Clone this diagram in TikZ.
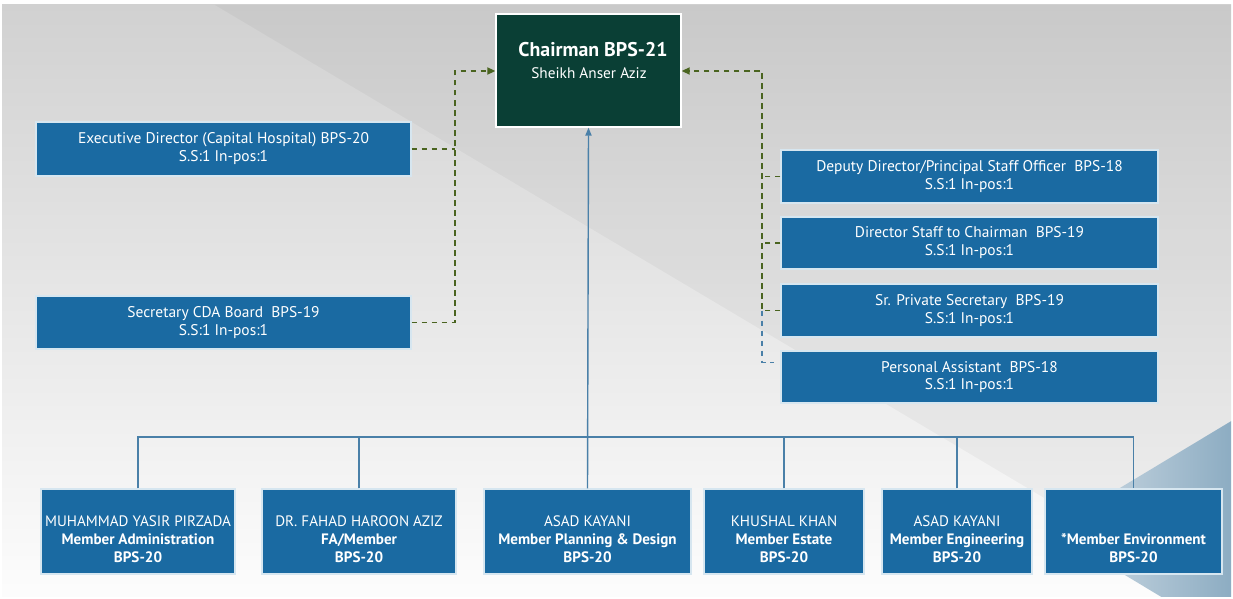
\documentclass[tikz,border=0pt]{standalone}
\usepackage{fontspec}
\setmainfont{PT Sans}
\usetikzlibrary{arrows.meta,calc}
\definecolor{boxblue}{HTML}{1A6AA2}
\definecolor{chairgreen}{HTML}{0A3F35}
\definecolor{dashgreen}{HTML}{4A6420}
\definecolor{treeblue}{HTML}{4A80A8}
\definecolor{bordercol}{HTML}{D6E6F0}
\tikzset{
  bluebox/.style={draw=bordercol, line width=0.7pt, fill=boxblue, text=white, align=center, inner sep=0pt, font=\fontsize{8.8}{10.2}\selectfont},
  membertext/.style={text=white, align=center, inner sep=0pt, font=\fontsize{8.6}{10.2}\selectfont},
  chairbox/.style={draw=white, line width=0.8pt, fill=chairgreen, inner sep=0pt},
  gdash/.style={draw=dashgreen, line width=0.9pt, dash pattern=on 3.3pt off 2.4pt},
  bdash/.style={draw=treeblue, line width=0.9pt, dash pattern=on 3.3pt off 2.4pt},
  treeline/.style={draw=treeblue, line width=0.8pt},
  garrow/.style={-{Triangle[length=4.5pt,width=4pt]}},
}
\newcommand\mkbox[7]{%
  \pgfmathsetmacro\bcx{(#3+#5)/2}%
  \pgfmathsetmacro\bcy{(#4+#6)/2}%
  \pgfmathsetmacro\bw{(#5-#3)*0.02}%
  \pgfmathsetmacro\bh{(#6-#4)*0.02}%
  \node[#2, minimum width=\bw cm, minimum height=\bh cm] (#1) at (\bcx,\bcy) {#7};}
\begin{document}
\begin{tikzpicture}[x=0.02cm,y=-0.02cm]
\useasboundingbox (0,0) rectangle (1233,598);
\fill[white] (0,0) rectangle (1233,598);
\begin{scope}
  \clip (2,5) rectangle (1231,596);
  \shade[top color=black!18, bottom color=black!1] (2,5) rectangle (1231,596);
  \fill[black, opacity=0.035] (215,5) -- (1231,5) -- (1231,609) -- cycle;
  \shade[left color={rgb,255:red,214;green,224;blue,232}, right color={rgb,255:red,140;green,172;blue,194}] (1233,420) -- (1050,530) -- (1233,640) -- cycle;
\end{scope}

% chairman
\mkbox{chair}{chairbox}{496}{14}{681}{127}{}
\node[text=white, font=\bfseries\fontsize{11.3}{13}\selectfont, inner sep=0pt] (chairt) at (593,50) {Chairman BPS-21};
\node[text=white, font=\fontsize{8.7}{10}\selectfont, inner sep=0pt] (chairs) at (589,73) {Sheikh Anser Aziz};

% left boxes
\mkbox{exec}{bluebox}{36}{122}{411}{176}{Executive Director (Capital Hospital) BPS-20\\S.S:1 In-pos:1}
\mkbox{sec}{bluebox}{36}{296}{411}{349}{Secretary CDA Board\ \ BPS-19\\S.S:1 In-pos:1}

% right boxes
\mkbox{dep}{bluebox}{781}{150}{1158}{203}{Deputy Director/Principal Staff Officer\ \ BPS-18\\S.S:1 In-pos:1}
\mkbox{dir}{bluebox}{781}{217}{1158}{269}{Director Staff to Chairman\ \ BPS-19\\S.S:1 In-pos:1}
\mkbox{srps}{bluebox}{781}{284}{1158}{337}{Sr. Private Secretary\ \ BPS-19\\S.S:1 In-pos:1}
\mkbox{pa}{bluebox}{781}{351}{1158}{403}{Personal Assistant\ \ BPS-18\\S.S:1 In-pos:1}

% bottom boxes
\mkbox{m1}{bluebox}{41}{489}{235}{574}{}
\mkbox{m2}{bluebox}{262}{489}{456}{574}{}
\mkbox{m3}{bluebox}{484}{489}{691}{574}{}
\mkbox{m4}{bluebox}{704}{489}{864}{574}{}
\mkbox{m5}{bluebox}{882}{489}{1032}{574}{}
\mkbox{m6}{bluebox}{1045}{489}{1222}{574}{}
\node[membertext] (m1t) at ($(m1)+(0,8)$) {MUHAMMAD YASIR PIRZADA\\\textbf{Member Administration}\\\textbf{BPS-20}};
\node[membertext] (m2t) at ($(m2)+(0,8)$) {DR. FAHAD HAROON AZIZ\\\textbf{FA/Member}\\\textbf{BPS-20}};
\node[membertext] (m3t) at ($(m3)+(0,8)$) {ASAD KAYANI\\\textbf{Member Planning \& Design}\\\textbf{BPS-20}};
\node[membertext] (m4t) at ($(m4)+(0,8)$) {KHUSHAL KHAN\\\textbf{Member Estate}\\\textbf{BPS-20}};
\node[membertext] (m5t) at ($(m5)+(0,8)$) {ASAD KAYANI\\\textbf{Member Engineering}\\\textbf{BPS-20}};
\node[membertext] (m6t) at ($(m6)+(0,17)$) {\textbf{*Member Environment}\\\textbf{BPS-20}};

% left dashed connectors
\coordinate (lx) at (455,71);
\draw[gdash] (exec.east) -- (exec.east -| lx);
\draw[gdash, garrow] (sec.east) -| (lx) -- (chair.west |- lx);

% right dashed connectors
\coordinate (rx) at (762,71);
\coordinate (pastub) at ($(pa.north west)+(-6,12)$);
\draw[gdash] (dep.west) -- (dep.west -| rx);
\draw[gdash] (dir.west) -- (dir.west -| rx);
\draw[gdash, garrow] (srps.west) -| (rx) -- (chair.east |- rx);
\draw[bdash] (srps.west -| rx) |- (pastub);

% tree
\coordinate (bus) at (588,437);
\draw[treeline, -{Triangle[length=4.5pt,width=3.5pt]}] (m3.north) -- (chair.south);
\draw[treeline] (m1.north) |- (m6.north |- bus) -- (m6.north);
\foreach \m in {m2,m4,m5} \draw[treeline] (\m.north) -- (\m.north |- bus);
\end{tikzpicture}
\end{document}
